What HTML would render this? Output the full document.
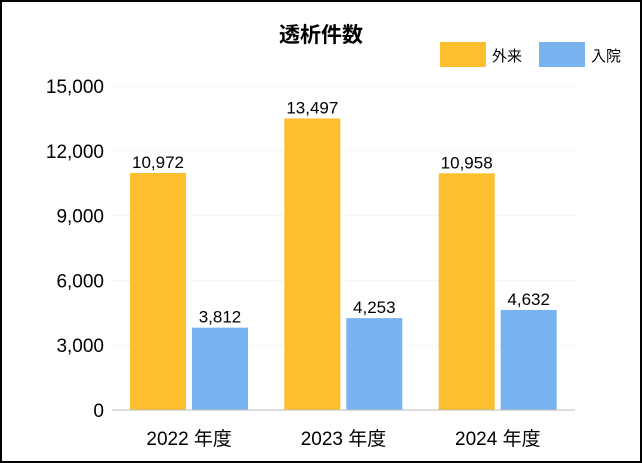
<!DOCTYPE html>
<html><head><meta charset="utf-8"><style>
html,body{margin:0;padding:0;background:#fff}
svg{display:block;font-family:"Liberation Sans","Noto Sans CJK JP",sans-serif}
</style></head><body>
<svg width="642" height="463" viewBox="0 0 642 463">
<rect x="1" y="1" width="640" height="461" fill="#fff" stroke="#000" stroke-width="2"/>
<text x="321" y="42" text-anchor="middle" font-size="21" font-weight="bold" fill="#000">透析件数</text>
<g>
<rect x="440" y="42" width="46" height="25" fill="#FDBF2D"/>
<text x="492" y="61" font-size="15">外来</text>
<rect x="539" y="42" width="46" height="25" fill="#79B4F0"/>
<text x="591" y="61" font-size="15">入院</text>
</g>
<g id="grid"></g><g id="bars"></g><g id="axes"></g>
</svg>
<script>
const categories=["2022 年度","2023 年度","2024 年度"];
const outpatient=[10972,13497,10958];
const inpatient=[3812,4253,4632];
const yTicks=[0,3000,6000,9000,12000,15000];
const ns="http://www.w3.org/2000/svg";
const x0=112,x1=575,yBase=410,yTop=86,yMax=15000;
const y=v=>yBase-(v/yMax)*(yBase-yTop);
const groupW=(x1-x0)/categories.length;
function mk(t,a,p){const e=document.createElementNS(ns,t);for(const k in a)e.setAttribute(k,a[k]);p.appendChild(e);return e;}
const grid=document.getElementById('grid'),bars=document.getElementById('bars'),axes=document.getElementById('axes');
yTicks.forEach(v=>{
 if(v>0){const l=mk('line',{x1:x0,x2:x1,y1:y(v),y2:y(v),stroke:'#ddd','stroke-dasharray':'1,3'},grid);
 
 }
 const t=mk('text',{x:104,y:y(v)+7,'text-anchor':'end','font-size':19,fill:'#000'},axes);
 t.textContent=v.toLocaleString('en-US');
 
 
});
const ax=mk('line',{x1:x0,x2:x1,y1:yBase,y2:yBase,stroke:'#bbb'},axes);


const bw=56;
categories.forEach((c,i)=>{
 const gx=x0+groupW*i;
 const series=[[outpatient[i],'#FDBF2D',gx+18,'bar-outpatient'],[inpatient[i],'#79B4F0',gx+80,'bar-inpatient']];
 series.forEach(([v,col,bx,nm])=>{
  const r=mk('rect',{x:bx,y:y(v),width:bw,height:yBase-y(v),fill:col},bars);
  
  
  const t=mk('text',{x:bx+bw/2,y:y(v)-5,'text-anchor':'middle','font-size':17,fill:'#000'},bars);
  t.textContent=v.toLocaleString('en-US');
  
  
 });
 const t=mk('text',{x:gx+groupW/2,y:445,'text-anchor':'middle','font-size':19,fill:'#000'},axes);
 t.textContent=c;
 
 
});
</script>
</body></html>
